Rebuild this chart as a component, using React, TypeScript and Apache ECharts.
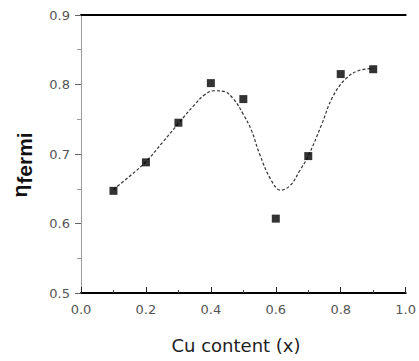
import React, { useEffect, useRef } from "react";
import * as echarts from "echarts";

const xValues = [0.1, 0.2, 0.3, 0.4, 0.5, 0.6, 0.7, 0.8, 0.9];
const etaValues = [0.647, 0.688, 0.745, 0.802, 0.779, 0.607, 0.697, 0.815, 0.822];

const curveX = [0.1, 0.15, 0.2, 0.25, 0.3, 0.35, 0.38, 0.41, 0.44, 0.47, 0.5, 0.525, 0.55, 0.585, 0.615, 0.645, 0.675, 0.7, 0.74, 0.775, 0.815, 0.855, 0.9];
const curveY = [0.649, 0.668, 0.689, 0.716, 0.744, 0.771, 0.785, 0.791, 0.790, 0.779, 0.757, 0.734, 0.700, 0.663, 0.648, 0.655, 0.677, 0.697, 0.741, 0.782, 0.808, 0.820, 0.823];

const xTitle = "Cu content (x)";
const yTitleMain = "η";
const yTitleSub = "fermi";

export default function App() {
  const ref = useRef<HTMLDivElement>(null);
  useEffect(() => {
    if (!ref.current) return;
    const chart = echarts.init(ref.current, null, { renderer: "svg" });
    const tickFont = { fontFamily: "DejaVu Sans", fontSize: 13, color: "#555" };
    chart.setOption({
      animation: false,
      backgroundColor: "#fff",
      grid: { left: 81, right: 9, top: 15, bottom: 68, containLabel: false },
      xAxis: [
        {
          type: "value",
          position: "bottom",
          min: 0,
          max: 1,
          interval: 0.2,
          axisLine: { show: true, lineStyle: { color: "#000", width: 2 } },
          axisTick: { show: true, inside: true, length: 6, lineStyle: { color: "#222" } },
          minorTick: { show: true, splitNumber: 2, length: 3, lineStyle: { color: "#444" } },
          splitLine: { show: false },
          axisLabel: { ...tickFont, margin: 10, formatter: (v: number) => v.toFixed(1) },
        },
        {
          type: "value",
          position: "top",
          min: 0,
          max: 1,
          axisLine: { show: true, lineStyle: { color: "#000", width: 2 } },
          axisTick: { show: false },
          axisLabel: { show: false },
          splitLine: { show: false },
        },
      ],
      yAxis: [
        {
          type: "value",
          position: "left",
          min: 0.5,
          max: 0.9,
          interval: 0.1,
          axisLine: { show: true, lineStyle: { color: "#888", width: 1 } },
          axisTick: { show: true, inside: false, length: 6, lineStyle: { color: "#666" } },
          minorTick: { show: true, splitNumber: 2, length: 4, lineStyle: { color: "#999" } },
          splitLine: { show: false },
          axisLabel: { ...tickFont, margin: 11, formatter: (v: number) => v.toFixed(1) },
        },
        {
          type: "value",
          position: "right",
          min: 0.5,
          max: 0.9,
          axisLine: { show: true, lineStyle: { color: "#999", width: 1 } },
          axisTick: { show: false },
          axisLabel: { show: false },
          splitLine: { show: false },
        },
      ],
      series: [
        {
          type: "line",
          data: curveX.map((x, i) => [x, curveY[i]]),
          showSymbol: false,
          smooth: 0.4,
          lineStyle: { color: "#333", width: 1.2, type: [3, 2] },
          z: 2,
        },
        {
          type: "scatter",
          data: xValues.map((x, i) => [x, etaValues[i]]),
          symbol: "rect",
          symbolSize: 8,
          itemStyle: { color: "#000" },
          z: 3,
        },
      ],
      graphic: [
        {
          type: "text",
          x: 236,
          y: 345,
          style: {
            text: xTitle,
            fontFamily: "DejaVu Sans",
            fontSize: 18,
            fill: "#222",
            textAlign: "center",
            textVerticalAlign: "middle",
          },
        },
        {
          type: "text",
          x: 24,
          y: 158,
          rotation: Math.PI / 2,
          style: {
            text: yTitleSub,
            fontFamily: "Liberation Sans",
            fontWeight: "bold",
            fontSize: 21,
            fill: "#111",
            textAlign: "center",
            textVerticalAlign: "middle",
          },
        },
        {
          type: "text",
          x: 19,
          y: 191,
          rotation: Math.PI / 2,
          style: {
            text: yTitleMain,
            fontFamily: "Liberation Sans",
            fontWeight: "bold",
            fontSize: 21,
            fill: "#111",
            textAlign: "center",
            textVerticalAlign: "middle",
          },
        },
      ],
    });
    return () => chart.dispose();
  }, []);
  return (
    <div
      ref={ref}
      style={{ position: "fixed", left: 0, top: 0, width: 419, height: 361, background: "#fff" }}
    />
  );
}
